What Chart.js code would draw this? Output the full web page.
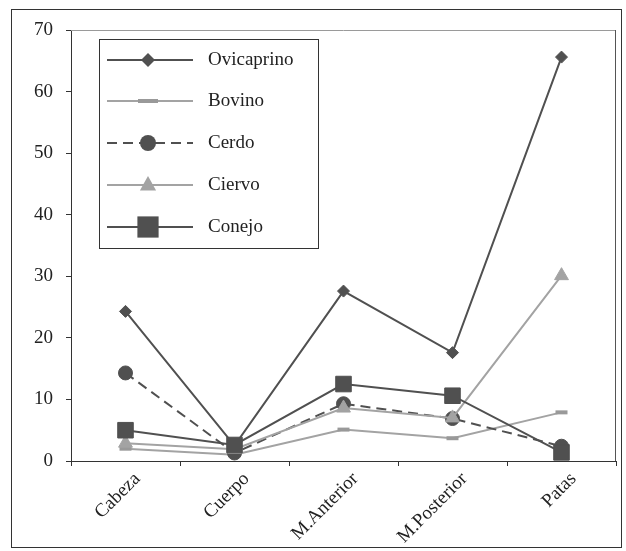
<!DOCTYPE html>
<html>
<head>
<meta charset="utf-8">
<script src="https://cdn.jsdelivr.net/npm/chart.js@4"></script>
<style>
    body { margin: 0; background: #fff; }
    #frame { position: absolute; left: 11px; top: 9px; width: 609px; height: 537px; border: 1px solid #333; }
    #chart { position: absolute; left: 12px; top: 10px; display: block; }
</style>
</head>
<body>
<div id="frame"></div>
<canvas id="chart" width="616" height="537"></canvas>
<script>
const CATEGORIES = ['Cabeza', 'Cuerpo', 'M.Anterior', 'M.Posterior', 'Patas'];
const OVICAPRINO = [24.3, 2.5, 27.6, 17.6, 65.6];
const BOVINO = [2.0, 1.0, 5.1, 3.7, 7.9];
const CERDO = [14.3, 1.3, 9.3, 6.9, 2.4];
const CIERVO = [2.9, 1.9, 8.6, 7.0, 30.1];
const CONEJO = [5.0, 2.6, 12.5, 10.6, 1.4];
const Y_TICKS = [0, 10, 20, 30, 40, 50, 60, 70];

const DARK = '#505050';
const LIGHT = '#a3a3a3';
const FONT = '"Liberation Serif", "Times New Roman", serif';

const series = [
    { label: 'Ovicaprino', data: OVICAPRINO, color: DARK, marker: 'rectRot', radius: 6, dash: [], order: 5 },
    { label: 'Bovino', data: BOVINO, color: LIGHT, marker: 'line', radius: 6, dash: [], order: 4 },
    { label: 'Cerdo', data: CERDO, color: DARK, marker: 'circle', radius: 7, dash: [10, 6], order: 3 },
    { label: 'Ciervo', data: CIERVO, color: LIGHT, marker: 'triangle', radius: 8, dash: [], order: 2 },
    { label: 'Conejo', data: CONEJO, color: DARK, marker: 'rect', radius: 11, dash: [], order: 1 },
];

// little marker shapes for the legend box
function drawMarker(ctx, type, x, y, r, color) {
    ctx.save();
    ctx.fillStyle = color;
    ctx.setLineDash([]);
    ctx.beginPath();
    if (type === 'rectRot') {
        ctx.moveTo(x, y - r); ctx.lineTo(x + r, y); ctx.lineTo(x, y + r); ctx.lineTo(x - r, y);
        ctx.closePath(); ctx.fill();
    } else if (type === 'line') {
        ctx.fillRect(x - 10, y - 2, 20, 4);
    } else if (type === 'circle') {
        ctx.arc(x, y, r, 0, Math.PI * 2); ctx.fill();
    } else if (type === 'triangle') {
        ctx.moveTo(x, y - r); ctx.lineTo(x + r * 0.9, y + r * 0.6); ctx.lineTo(x - r * 0.9, y + r * 0.6);
        ctx.closePath(); ctx.fill();
    } else if (type === 'rect') {
        const s = r * Math.SQRT1_2;
        ctx.fillRect(x - s, y - s, 2 * s, 2 * s);
    }
    ctx.restore();
}

const boxPlugin = {
    id: 'boxPlugin',
    beforeDatasetsDraw(chart) {
        const { ctx, chartArea: a } = chart;
        ctx.save();
        ctx.lineWidth = 1;
        ctx.strokeStyle = '#9a9a9a';
        ctx.beginPath();
        ctx.moveTo(a.left, a.top + 0.5); ctx.lineTo(a.right, a.top + 0.5);
        ctx.stroke();
        ctx.strokeStyle = '#555';
        ctx.beginPath();
        ctx.moveTo(a.right - 0.5, a.top); ctx.lineTo(a.right - 0.5, a.bottom);
        ctx.stroke();
        ctx.restore();
    },
    afterDraw(chart) {
        const ctx = chart.ctx;
        const bx = 87, by = 29, bw = 219, bh = 209;
        ctx.save();
        ctx.fillStyle = '#fff';
        ctx.fillRect(bx, by, bw, bh);
        ctx.strokeStyle = '#333';
        ctx.lineWidth = 1;
        ctx.strokeRect(bx + 0.5, by + 0.5, bw, bh);
        const rows = [50, 91, 133, 175, 217];
        series.forEach((s, i) => {
            const y = rows[i];
            ctx.strokeStyle = s.color;
            ctx.lineWidth = 2;
            ctx.setLineDash(s.dash);
            ctx.beginPath();
            ctx.moveTo(95, y); ctx.lineTo(181, y);
            ctx.stroke();
            drawMarker(ctx, s.marker, 136, y, s.marker === 'rect' ? 15 : s.radius + 1, s.marker === 'line' ? '#999' : s.color);
            ctx.fillStyle = '#222';
            ctx.font = '19px ' + FONT;
            ctx.textBaseline = 'middle';
            ctx.fillText(s.label, 196, y);
        });
        ctx.restore();
    },
};

new Chart(document.getElementById('chart'), {
    type: 'line',
    data: {
        labels: CATEGORIES,
        datasets: series.map(s => ({
            label: s.label,
            data: s.data,
            borderColor: s.color,
            backgroundColor: s.color,
            borderWidth: 2,
            borderDash: s.dash,
            pointStyle: s.marker,
            pointRadius: s.radius,
            pointBorderWidth: s.marker === 'line' ? 4 : 1,
            pointBorderColor: s.marker === 'line' ? '#999' : s.color,
            pointBackgroundColor: s.color,
            tension: 0,
            fill: false,
            order: s.order,
        })),
    },
    options: {
        responsive: false,
        animation: false,
        layout: { padding: { top: 20, right: 0, left: 0, bottom: 0 } },
        plugins: {
            legend: { display: false },
            tooltip: { enabled: false },
        },
        scales: {
            x: {
                offset: true,
                afterFit: s => { s.height = 86; },
                border: { display: true, color: '#333', width: 1 },
                grid: { offset: true, drawOnChartArea: false, tickLength: 5, color: '#333' },
                ticks: { color: '#222', font: { family: FONT, size: 19 }, minRotation: 45, maxRotation: 45, padding: 2, labelOffset: 12 },
            },
            y: {
                min: 0,
                max: 70,
                afterFit: s => { s.width = 59; s.paddingTop = 10; s.paddingBottom = 10; },
                afterBuildTicks: s => { s.ticks = Y_TICKS.map(v => ({ value: v })); },
                border: { display: true, color: '#333', width: 1 },
                grid: { drawOnChartArea: false, tickLength: 5, color: '#333' },
                ticks: { color: '#222', font: { family: FONT, size: 19 }, padding: 13 },
            },
        },
    },
    plugins: [boxPlugin],
});
</script>
</body>
</html>
